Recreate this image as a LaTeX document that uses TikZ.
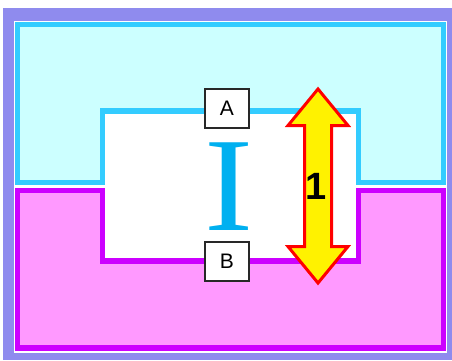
\documentclass[tikz,border=0pt]{standalone}
\usepackage{fontspec}
\newfontfamily\sansf{Liberation Sans}
\newfontfamily\seriff{Liberation Serif}
\definecolor{bgpurple}{RGB}{143,139,238}
\definecolor{cyanline}{RGB}{51,204,255}
\definecolor{cyanfill}{RGB}{204,255,255}
\definecolor{magline}{RGB}{204,0,255}
\definecolor{magfill}{RGB}{255,153,255}
\definecolor{ibeam}{RGB}{0,176,240}
\definecolor{boxline}{RGB}{40,40,40}
\begin{document}
\begin{tikzpicture}[x=1pt,y=-1pt,
  region/.style={line width=5.3pt, miter limit=10},
  labelbox/.style={draw=boxline, line width=1.3pt, fill=white, minimum width=44pt, minimum height=39pt, inner sep=0pt, font=\sansf\fontsize{21}{21}\selectfont},
  bigarrow/.style={draw=red, fill=yellow, line width=3pt, line join=miter}]
\useasboundingbox (0,0) rectangle (452,360);
\fill[white] (0,0) rectangle (452,360);
\fill[bgpurple] (3,8) rectangle (452,360);
\fill[white] (13.5,20.5) rectangle (447,352.5);
% upper (cyan) region
\draw[region, draw=cyanline, fill=cyanfill] (17.3,24.5) -- (443.3,24.5) -- (443.3,182.5) -- (358.3,182.5) -- (358.3,111) -- (102.5,111) -- (102.5,182.5) -- (17.3,182.5) -- cycle;
% lower (magenta) region
\draw[region, draw=magline, fill=magfill] (17.3,190.8) -- (102.5,190.8) -- (102.5,261) -- (358.3,261) -- (358.3,190.8) -- (443.3,190.8) -- (443.3,348) -- (17.3,348) -- cycle;
% I-beam glyph
\node[text=ibeam, inner sep=0pt, anchor=base, text depth=0pt, font=\seriff\fontsize{134}{134}\selectfont] (ibeam) at (229.5,230) {\scalebox{1.1}[1]{I}};
% double arrow
\draw[bigarrow] (318,89) -- (348,125.5) -- (331.5,125.5) -- (331.5,246.5) -- (348,246.5) -- (318,283) -- (288,246.5) -- (304.5,246.5) -- (304.5,125.5) -- (288,125.5) -- cycle;
\node[inner sep=0pt, font=\sansf\bfseries\fontsize{38}{38}\selectfont] (one) at (316.5,186) {1};
% labels
\node[labelbox] (A) at (227,108.5) {A};
\node[labelbox] (B) at (227,261.5) {B};
\end{tikzpicture}
\end{document}
